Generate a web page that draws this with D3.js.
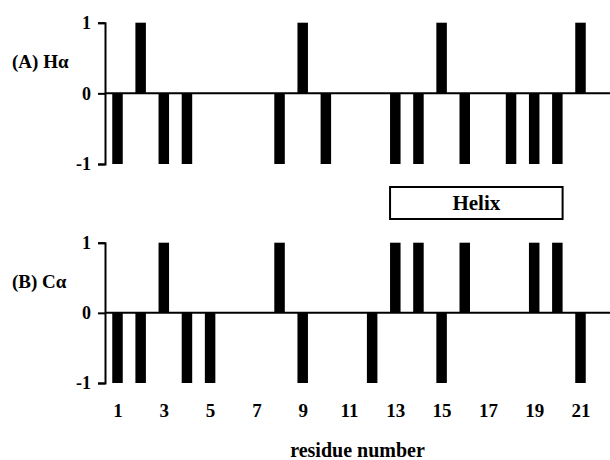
<!DOCTYPE html>
<html>
<head>
<meta charset="utf-8">
<script src="https://cdn.jsdelivr.net/npm/d3@7"></script>
<style>
    body { margin: 0; background: #fff; }
    svg text { font-family: "Liberation Serif", "Times New Roman", serif; font-weight: bold; fill: #000; }
</style>
</head>
<body>
<div id="chart"></div>
<script>
// Hα / Cα chemical shift index per residue, two stacked panels

const residues = [1, 2, 3, 4, 5, 6, 7, 8, 9, 10, 11, 12, 13, 14, 15, 16, 17, 18, 19, 20, 21];
const haValues = [-1, 1, -1, -1, 0, 0, 0, -1, 1, -1, 0, 0, -1, -1, 1, -1, 0, -1, -1, -1, 1];
const caValues = [-1, -1, 1, -1, -1, 0, 0, 1, -1, 0, 0, -1, 1, 1, -1, 1, 0, 0, 1, 1, -1];
const xTickValues = [1, 3, 5, 7, 9, 11, 13, 15, 17, 19, 21];
const yTickValues = [-1, 0, 1];
const panelLabels = ['(A) H\u03B1', '(B) C\u03B1'];
const helixStart = 13;
const helixEnd = 20;
const helixLabel = 'Helix';
const xAxisTitle = 'residue number';

const Chart = {
    width: 610,
    height: 460,
    axisX: 105,
    barWidth: 10.5,
    panels: [
        { top: 22.7, bottom: 164, values: haValues, label: panelLabels[0] },
        { top: 242.7, bottom: 383, values: caValues, label: panelLabels[1] }
    ],

    init() {
        this.svg = d3.select('#chart').append('svg')
            .attr('width', this.width)
            .attr('height', this.height);

        this.x = d3.scaleLinear()
            .domain([residues[0], residues[residues.length - 1]])
            .range([117.5, 580.5]);

        this.panels.forEach(p => this.drawPanel(p));
        this.drawHelix();
        this.drawXAxis();
    },

    drawPanel(p) {
        const y = d3.scaleLinear().domain([-1, 1]).range([p.bottom, p.top]);
        const g = this.svg.append('g');

        // bars (skip zeros)
        const data = residues.map((r, i) => ({ r, v: p.values[i] })).filter(d => d.v !== 0);
        g.selectAll('rect.bar')
            .data(data)
            .enter().append('rect')
            .attr('class', 'bar')
            .attr('x', d => this.x(d.r) - this.barWidth / 2)
            .attr('y', d => y(Math.max(0, d.v)))
            .attr('width', this.barWidth)
            .attr('height', d => Math.abs(y(d.v) - y(0)))
            .attr('fill', '#000');

        // zero baseline runs to the right edge
        g.append('line')
            .attr('x1', this.axisX)
            .attr('x2', this.width)
            .attr('y1', y(0))
            .attr('y2', y(0))
            .attr('stroke', '#000')
            .attr('stroke-width', 2);

        const axis = d3.axisLeft(y)
            .tickValues(yTickValues)
            .tickFormat(d => String(d))
            .tickSize(7)
            .tickSizeOuter(7)
            .tickPadding(7);

        const ag = g.append('g')
            .attr('transform', `translate(${this.axisX},0)`)
            .call(axis);
        ag.selectAll('path, line').attr('stroke', '#000').attr('stroke-width', 2);
        ag.selectAll('text').attr('font-size', 18).attr('fill', '#000');

        g.append('text')
            .attr('x', 12)
            .attr('y', y(0.45))
            .attr('dy', '0.35em')
            .attr('font-size', 19)
            .text(p.label);
    },

    drawHelix() {
        const x0 = this.x(helixStart) - this.barWidth / 2;
        const x1 = this.x(helixEnd) + this.barWidth / 2;
        this.svg.append('rect')
            .attr('x', x0)
            .attr('y', 187)
            .attr('width', x1 - x0)
            .attr('height', 32)
            .attr('fill', '#fff')
            .attr('stroke', '#000')
            .attr('stroke-width', 2);
        this.svg.append('text')
            .attr('x', (x0 + x1) / 2)
            .attr('y', 203)
            .attr('dy', '0.35em')
            .attr('text-anchor', 'middle')
            .attr('font-size', 21)
            .text(helixLabel);
    },

    drawXAxis() {
        const ag = this.svg.append('g')
            .attr('transform', 'translate(0,398)')
            .call(d3.axisBottom(this.x).tickValues(xTickValues).tickSize(0).tickPadding(6));
        ag.select('.domain').remove();
        ag.selectAll('text').attr('font-size', 19).attr('fill', '#000');

        this.svg.append('text')
            .attr('x', (this.axisX + this.width) / 2)
            .attr('y', 457)
            .attr('text-anchor', 'middle')
            .attr('font-size', 20)
            .text(xAxisTitle);
    }
};

Chart.init();
</script>
</body>
</html>
